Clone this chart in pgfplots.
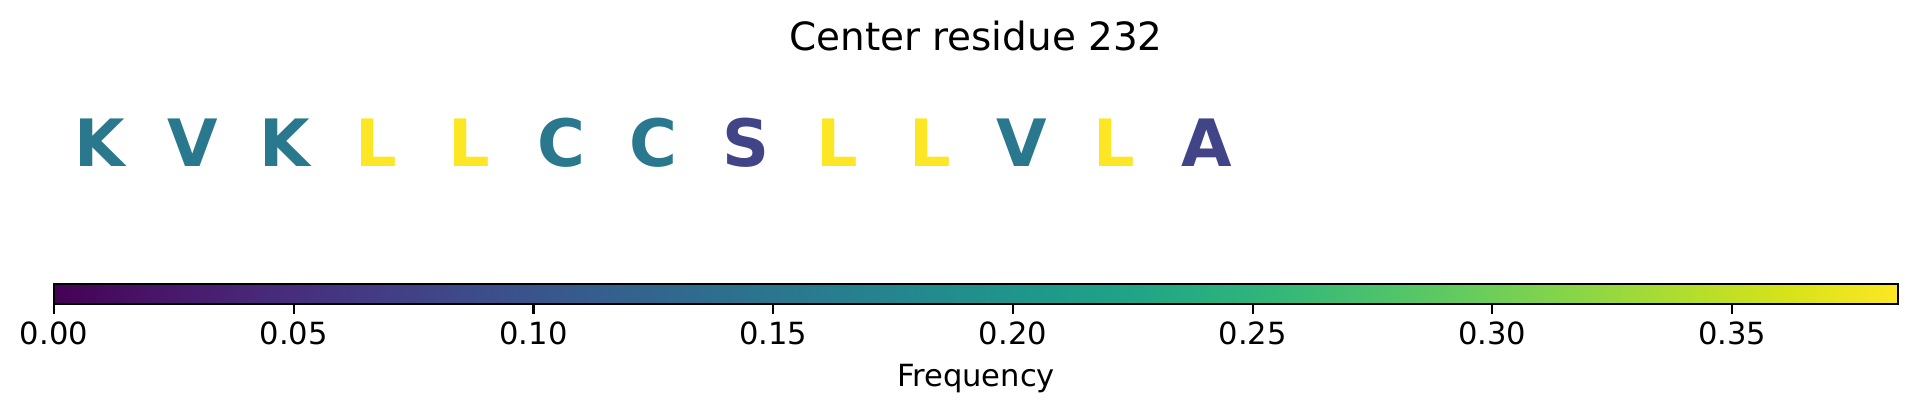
\documentclass[border=0pt]{standalone}
\usepackage{pgfplots}
\usepackage{pgfplotstable}
\pgfplotsset{compat=1.18}
\usepackage{fontspec}
\setmainfont{DejaVu Sans}
\definecolor{vmid}{HTML}{2A788E}
\definecolor{vlow}{HTML}{414487}
\definecolor{vhigh}{HTML}{FDE725}
% letters with frequency 2/13
\pgfplotstableread{
x y lab
0.5 0.379 K
1.5 0.379 V
2.5 0.379 K
5.5 0.379 C
6.5 0.379 C
10.5 0.379 V
}\lettersmid
% letters with frequency 5/13
\pgfplotstableread{
x y lab
3.5 0.379 L
4.5 0.379 L
8.5 0.379 L
9.5 0.379 L
11.5 0.379 L
}\lettershigh
% letters with frequency 1/13
\pgfplotstableread{
x y lab
7.5 0.379 S
12.5 0.379 A
}\letterslow
\begin{document}
\begin{tikzpicture}
\path[use as bounding box] (0,0) rectangle (690.12pt,149.76pt);
\begin{axis}[
  at={(19.44pt,65.16pt)}, anchor=south west,
  scale only axis, width=663.84pt, height=64.8pt,
  xmin=0, xmax=20, ymin=0, ymax=1,
  axis lines=none, ticks=none,
  clip=false,
  title={Center residue 232},
  title style={font=\fontsize{14}{16}\selectfont, at={(0.5,1)}, anchor=base, yshift=-4.4pt},
  colormap name=viridis,
  point meta min=0, point meta max=0.384615,
  colorbar horizontal,
  colorbar style={
    at={(parent axis.south west)}, anchor=north west, yshift=-9.1pt,
    scale only axis, width=663.84pt, height=7.2pt,
    xtick={0,0.05,0.10,0.15,0.20,0.25,0.30,0.35},
    xtick pos=left,
    tick align=outside,
    major tick length=3.5pt,
    every tick/.style={black, line width=0.8pt},
    axis line style={line width=0.8pt},
    xticklabel style={font=\fontsize{11}{13}\selectfont, anchor=base, yshift=-11.1pt,
      /pgf/number format/.cd, fixed, fixed zerofill, precision=2, assume math mode=true},
    xlabel={Frequency},
    xlabel style={font=\fontsize{11}{13}\selectfont, at={(0.5,0)}, anchor=base, yshift=-29.6pt},
  },
  every node near coord/.append style={anchor=base, inner sep=0pt,
     font=\bfseries\fontsize{23.5}{28}\selectfont},
]
\addplot[draw=none, mark=none, point meta=explicit symbolic, nodes near coords,
  every node near coord/.append style={text=vmid}]
  table[x=x, y=y, meta=lab] {\lettersmid};
\addplot[draw=none, mark=none, point meta=explicit symbolic, nodes near coords,
  every node near coord/.append style={text=vhigh}]
  table[x=x, y=y, meta=lab] {\lettershigh};
\addplot[draw=none, mark=none, point meta=explicit symbolic, nodes near coords,
  every node near coord/.append style={text=vlow}]
  table[x=x, y=y, meta=lab] {\letterslow};
\end{axis}
\end{tikzpicture}
\end{document}
